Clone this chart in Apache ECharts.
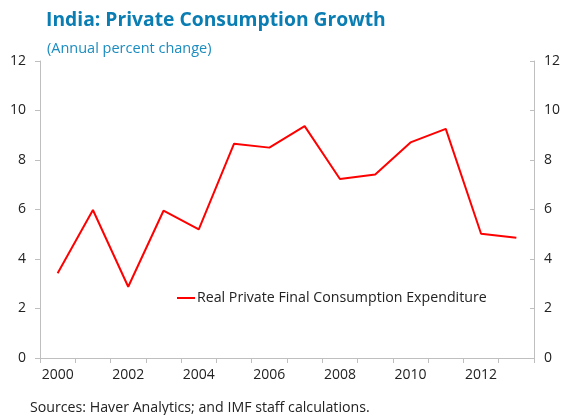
<!DOCTYPE html>
<html>
<head>
<meta charset="utf-8">
<script src="https://cdn.jsdelivr.net/npm/echarts@6/dist/echarts.min.js"></script>
<style>html,body{margin:0;padding:0;background:#fff;}#c{width:566px;height:415px;}</style>
</head>
<body>
<div id="c"></div>
<script>
const years = ['2000','2001','2002','2003','2004','2005','2006','2007','2008','2009','2010','2011','2012','2013'];
const consumption = [3.42, 5.98, 2.88, 5.95, 5.2, 8.66, 8.5, 9.37, 7.23, 7.41, 8.71, 9.26, 5.02, 4.86];
const seriesName = 'Real Private Final Consumption Expenditure';
const yTicks = [0, 2, 4, 6, 8, 10, 12];

const font = '"Open Sans", "Noto Sans", sans-serif';
const chart = echarts.init(document.getElementById('c'));
const yAxisBase = {
  type: 'value', min: yTicks[0], max: yTicks[yTicks.length-1], interval: 2,
  splitLine: {show: false},
  axisLine: {show: true, lineStyle: {color: '#bfbfbf'}},
  axisLabel: {color: '#222', fontSize: 14, fontFamily: font}
};
chart.setOption({
  animation: false,
  title: [
    {text: 'India: Private Consumption Growth', left: 41, top: 6,
     textStyle: {color: '#0a7db3', fontSize: 19.3, fontWeight: 'bold', fontFamily: font}},
    {text: '(Annual percent change)', left: 42, top: 36,
     textStyle: {color: '#1a8cc0', fontSize: 14.5, fontWeight: 'normal', fontFamily: font}},
    {text: 'Sources: Haver Analytics; and IMF staff calculations.', left: 25, top: 396,
     textStyle: {color: '#222', fontSize: 14.2, fontWeight: 'normal', fontFamily: font}}
  ],
  grid: {left: 40, right: 32, top: 61, bottom: 57},
  legend: {
    left: 172, top: 286, itemWidth: 18, itemHeight: 2, icon: 'rect', itemGap: 2,
    textStyle: {color: '#222', fontSize: 14.2, fontFamily: font, padding: [0,0,0,-3]},
    data: [seriesName]
  },
  xAxis: {
    type: 'category', data: years, boundaryGap: true,
    axisLine: {lineStyle: {color: '#bfbfbf'}},
    axisTick: {show: true, interval: 0, length: 5, lineStyle: {color: '#bfbfbf'}},
    axisLabel: {interval: 1, color: '#222', fontSize: 14, fontFamily: font, margin: 10}
  },
  yAxis: [
    Object.assign({}, yAxisBase, {position: 'left', axisTick: {show: true, length: 5, lineStyle: {color: '#bfbfbf'}}, axisLabel: Object.assign({}, yAxisBase.axisLabel, {margin: 14})}),
    Object.assign({}, yAxisBase, {position: 'right', axisTick: {show: true, inside: true, length: 4, lineStyle: {color: '#bfbfbf'}}, axisLabel: Object.assign({}, yAxisBase.axisLabel, {margin: 10})})
  ],
  series: [{
    name: seriesName, type: 'line', data: consumption, yAxisIndex: 0,
    showSymbol: false, symbol: 'none',
    lineStyle: {color: '#ff0000', width: 2}, itemStyle: {color: '#ff0000'}
  }]
});
</script>
</body>
</html>
